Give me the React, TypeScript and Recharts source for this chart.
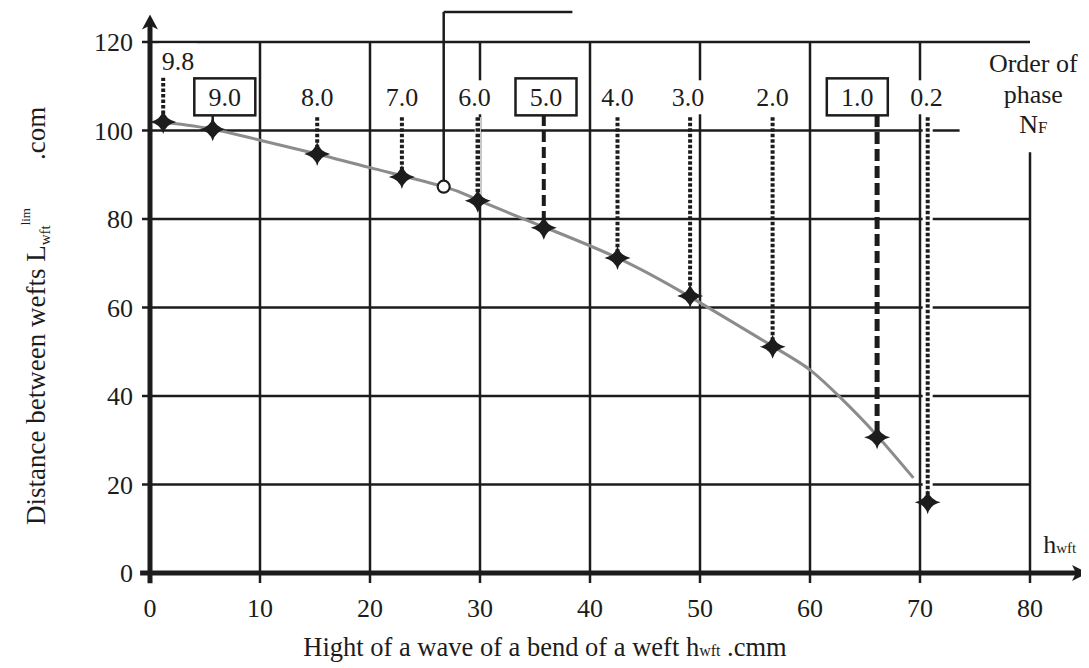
import React from 'react';
import {
  ComposedChart,
  XAxis,
  YAxis,
  Line,
  Scatter,
  ReferenceLine,
  ReferenceDot,
  Label,
} from 'recharts';

// ---------------- data ----------------
const xTicks = [0, 10, 20, 30, 40, 50, 60, 70, 80];
const yTicks = [0, 20, 40, 60, 80, 100, 120];

// horizontal grid lines and where they end on the x scale
const yGridValues = [20, 40, 60, 80, 100, 120];
const yGridEnd = [80, 80, 80, 80, 73.6, 80];
// vertical grid lines and where they start at the top (y scale)
const xGridValues = [10, 20, 30, 40, 50, 60, 70, 80];
const xGridTop = [120, 120, 120, 120, 120, 120, 120, 95.1];

// order of phase N_F
const phaseOrder = ['9.8', '9.0', '8.0', '7.0', '6.0', '5.0', '4.0', '3.0', '2.0', '1.0', '0.2'];
const starX = [1.2, 5.7, 15.2, 22.9, 29.8, 35.8, 42.5, 49.1, 56.6, 66.1, 70.7];
const starY = [101.9, 100.3, 94.7, 89.5, 84.1, 78.0, 71.2, 62.6, 51.1, 30.7, 16.0];
const labelX = [2.55, 6.8, 15.2, 22.9, 29.5, 36.0, 42.5, 48.9, 56.6, 64.3, 70.6];
const labelY = [115.8, 107.6, 107.5, 107.5, 107.5, 107.6, 107.5, 107.5, 107.5, 107.6, 107.5];
const leaderTop = [113.2, 103.5, 103.0, 103.0, 103.0, 103.5, 103.0, 103.0, 103.0, 103.5, 103.0];

// grey curve
const curveX = [1.5, 5.7, 10, 15.2, 20, 26.7, 29.8, 35.8, 42.5, 49.1, 56.7, 60, 62.7, 65.9, 69.4];
const curveY = [101.8, 100.3, 97.8, 94.7, 91.6, 87.3, 84.3, 78.2, 71.2, 62.4, 51.1, 45.9, 39.8, 31.6, 21.5];

// callout (open circle with leader)
const calloutX = 26.7;
const calloutY = 87.3;
const calloutTopY = 126.8;
const calloutEndX = 38.4;

// ---------------- styles ----------------
const FONT = "'Liberation Serif', 'Times New Roman', Times, serif";
const INK = '#1c1c1c';
const BOXED = new Set(['9.0', '5.0', '1.0']);
const LEADER: Record<string, { w: number; dash?: string; halo?: number }> = {
  '9.8': { w: 4, dash: '3.5 2' },
  '9.0': { w: 2.5 },
  '8.0': { w: 4, dash: '3.5 2' },
  '7.0': { w: 4, dash: '3.5 2' },
  '6.0': { w: 4.5, dash: '3.5 2', halo: 6 },
  '5.0': { w: 4, dash: '11 5' },
  '4.0': { w: 4, dash: '3.5 2' },
  '3.0': { w: 4, dash: '3.5 2' },
  '2.0': { w: 4, dash: '3.5 2' },
  '1.0': { w: 5, dash: '12 5' },
  '0.2': { w: 4, dash: '3.5 2', halo: 10 },
};

const curveData = curveX.map((x, i) => ({ x, y: curveY[i] }));
const starData = starX.map((x, i) => ({ x, y: starY[i] }));
const labelData = labelX.map((x, i) => ({ x, y: labelY[i], text: phaseOrder[i] }));

const Star = (p: any) => {
  const { cx, cy } = p;
  if (cx == null || cy == null) return null;
  const a = 13;
  const b = 12;
  const c = 2.4;
  const d = `M${cx - a},${cy} Q${cx - c},${cy - c} ${cx},${cy - b} Q${cx + c},${cy - c} ${cx + a},${cy} Q${cx + c},${cy + c} ${cx},${cy + b} Q${cx - c},${cy + c} ${cx - a},${cy} Z`;
  return <path d={d} fill={INK} />;
};

const PhaseLabel = (p: any) => {
  const { cx, cy, payload } = p;
  if (cx == null || cy == null) return null;
  const boxed = BOXED.has(payload.text);
  return (
    <g>
      {boxed ? (
        <rect x={cx - 30.5} y={cy - 18.5} width={61} height={37} fill="#fff" stroke={INK} strokeWidth={2.5} />
      ) : (
        <rect x={cx - 19} y={cy - 17} width={38} height={34} fill="#fff" />
      )}
      <text x={cx} y={cy + 9} textAnchor="middle" fontFamily={FONT} fontSize={26} fill={INK}>
        {payload.text}
      </text>
    </g>
  );
};

const XTitle = (props: any) => {
  const vb = props.viewBox || { x: 142, y: 565 };
  return (
    <text x={vb.x + 395} y={vb.y + 83} textAnchor="middle" fontFamily={FONT} fontSize={26.5} fill={INK}>
      Hight of a wave of a bend of a weft h<tspan fontSize={16}>wft</tspan> .cmm
    </text>
  );
};

const YTitle = (props: any) => {
  const vb = props.viewBox || { x: 82, y: 3 };
  const x = vb.x - 45;
  const y = vb.y + 514;
  return (
    <text
      x={x}
      y={y}
      transform={`rotate(-90, ${x}, ${y})`}
      textAnchor="start"
      fontFamily={FONT}
      fontSize={27}
      fill={INK}
    >
      Distance between wefts L
      <tspan fontSize={15} dy={5}>wft</tspan>
      <tspan fontSize={13} dy={-20}>lim</tspan>
      <tspan fontSize={27} dy={15} dx={48}>.com</tspan>
    </text>
  );
};

const OrderTitle = (p: any) => {
  const { cx, cy } = p;
  if (cx == null || cy == null) return null;
  return (
    <g fontFamily={FONT} fill={INK} textAnchor="middle">
      <text x={cx} y={cy - 25} fontSize={26}>Order of</text>
      <text x={cx} y={cy + 6} fontSize={26}>phase</text>
      <text x={cx} y={cy + 36} fontSize={26}>
        N<tspan fontSize={17}>F</tspan>
      </text>
    </g>
  );
};

const HLabel = (p: any) => {
  const { cx, cy } = p;
  if (cx == null || cy == null) return null;
  return (
    <text x={cx} y={cy + 2} textAnchor="end" fontFamily={FONT} fill={INK} fontSize={26}>
      h<tspan fontSize={15}>wft</tspan>
    </text>
  );
};

const ArrowRight = (p: any) => {
  const { cx, cy } = p;
  if (cx == null || cy == null) return null;
  return <path d={`M${cx + 3},${cy} L${cx - 13},${cy - 8} L${cx - 9},${cy} L${cx - 13},${cy + 8} Z`} fill={INK} />;
};

const ArrowUp = (p: any) => {
  const { cx, cy } = p;
  if (cx == null || cy == null) return null;
  return <path d={`M${cx},${cy - 1} L${cx - 8},${cy + 14} L${cx},${cy + 10} L${cx + 8},${cy + 14} Z`} fill={INK} />;
};

export default function App() {
  return (
    <div style={{ width: 1081, height: 660, background: '#fff' }}>
      <ComposedChart width={1081} height={660} margin={{ top: 3, right: 4, bottom: 55, left: 82 }}>
        <XAxis
          dataKey="x"
          type="number"
          domain={[0, 85]}
          ticks={xTicks}
          interval={0}
          allowDataOverflow
          height={40}
          axisLine={false}
          tickLine={{ stroke: INK, strokeWidth: 2.5 }}
          tickSize={10}
          tickMargin={16}
          tick={{ fontFamily: FONT, fontSize: 26, fill: INK }}
        >
          <Label content={XTitle} />
        </XAxis>
        <YAxis
          type="number"
          domain={[0, 127]}
          ticks={yTicks}
          interval={0}
          allowDataOverflow
          width={60}
          axisLine={false}
          tickLine={{ stroke: INK, strokeWidth: 2.5 }}
          tickSize={8}
          tickMargin={9}
          tick={{ fontFamily: FONT, fontSize: 26, fill: INK }}
        >
          <Label content={YTitle} />
        </YAxis>

        {yGridValues.map((v, i) => (
          <ReferenceLine
            key={'gh' + i}
            segment={[{ x: 0, y: v }, { x: yGridEnd[i], y: v }]}
            stroke={INK}
            strokeWidth={2.5}
          />
        ))}
        {xGridValues.map((v, i) => (
          <ReferenceLine
            key={'gv' + i}
            segment={[{ x: v, y: 0 }, { x: v, y: xGridTop[i] }]}
            stroke={INK}
            strokeWidth={2.5}
          />
        ))}

        <Line
          data={curveData}
          dataKey="y"
          type="natural"
          stroke="#8c8c8c"
          strokeWidth={3}
          dot={false}
          activeDot={false}
          isAnimationActive={false}
        />

        {phaseOrder.map((ph, i) => {
          const st = LEADER[ph];
          const seg = [
            { x: starX[i], y: leaderTop[i] },
            { x: starX[i], y: starY[i] },
          ];
          return st.halo ? (
            <ReferenceLine key={'halo' + i} segment={seg} stroke="#fff" strokeWidth={st.halo} />
          ) : null;
        })}
        {phaseOrder.map((ph, i) => {
          const st = LEADER[ph];
          const seg = [
            { x: starX[i], y: leaderTop[i] },
            { x: starX[i], y: starY[i] },
          ];
          return (
            <ReferenceLine
              key={'lead' + i}
              segment={seg}
              stroke={INK}
              strokeWidth={st.w}
              strokeDasharray={st.dash}
            />
          );
        })}

        <ReferenceLine
          segment={[{ x: calloutX, y: calloutY }, { x: calloutX, y: calloutTopY }]}
          stroke={INK}
          strokeWidth={2.5}
        />
        <ReferenceLine
          segment={[{ x: calloutX, y: calloutTopY }, { x: calloutEndX, y: calloutTopY }]}
          stroke={INK}
          strokeWidth={2.5}
        />

        {/* axes */}
        <ReferenceLine
          segment={[{ x: -0.9, y: 0 }, { x: 84.5, y: 0 }]}
          stroke={INK}
          strokeWidth={5}
          ifOverflow="visible"
        />
        <ReferenceLine
          segment={[{ x: 0, y: -2.3 }, { x: 0, y: 125 }]}
          stroke={INK}
          strokeWidth={5}
          ifOverflow="visible"
        />

        <Scatter data={labelData} dataKey="y" shape={PhaseLabel} isAnimationActive={false} />
        <Scatter data={starData} dataKey="y" shape={Star} isAnimationActive={false} />

        <ReferenceDot x={calloutX} y={calloutY} r={6} fill="#fff" stroke={INK} strokeWidth={2.2} />
        <ReferenceDot x={85} y={0} shape={ArrowRight} ifOverflow="visible" />
        <ReferenceDot x={0} y={126} shape={ArrowUp} ifOverflow="visible" />
        <ReferenceDot x={80.3} y={107.6} shape={OrderTitle} ifOverflow="visible" />
        <ReferenceDot x={84.2} y={5} shape={HLabel} ifOverflow="visible" />
      </ComposedChart>
    </div>
  );
}
